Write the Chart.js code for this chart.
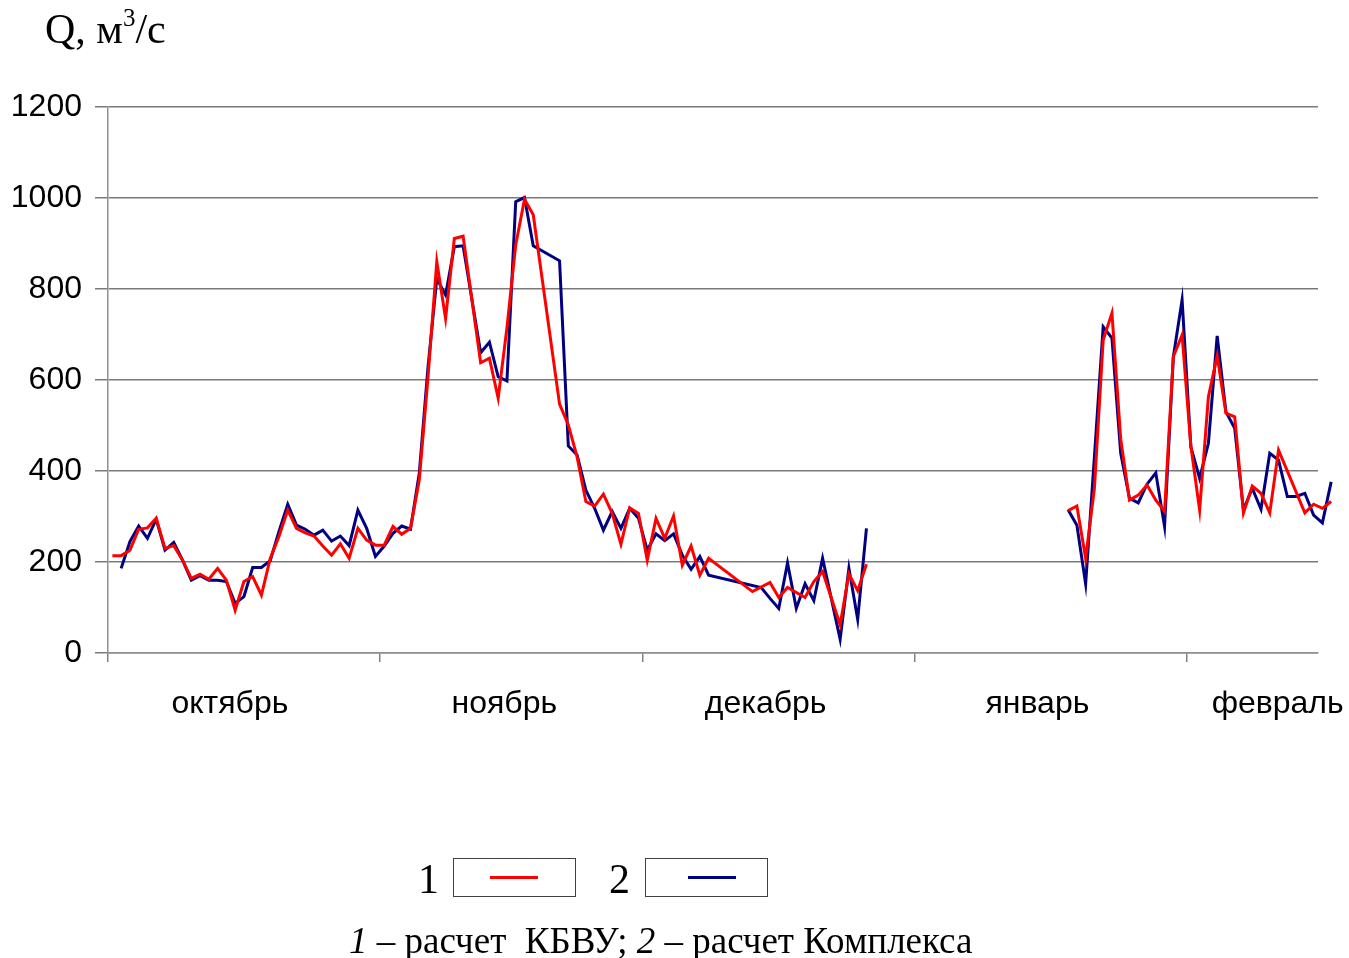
<!DOCTYPE html>
<html>
<head>
<meta charset="utf-8">
<script src="https://cdn.jsdelivr.net/npm/chart.js@4.4.1/dist/chart.umd.min.js"></script>
<style>
  html, body { margin:0; padding:0; background:#fff; }
  #wrap { position:relative; width:1349px; height:958px; overflow:hidden; }
  canvas { position:absolute; left:0; top:0; }
  .serif { font-family:"Liberation Serif","Times New Roman",serif; color:#000; position:absolute; white-space:nowrap; line-height:1; }
  .box { position:absolute; border:1.5px solid #404040; background:#fff; }
  .sample { position:absolute; height:3px; }
</style>
</head>
<body>
<div id="wrap">
  <canvas id="c" width="1349" height="958"></canvas>
  <div class="serif" style="left:45px; top:8px; font-size:42px;">Q, м<sup style="font-size:25px; vertical-align:17px; line-height:0">3</sup>/с</div>
  <div class="serif" style="left:418px; top:858px; font-size:42px;">1</div>
  <div class="box" style="left:453px; top:858px; width:121px; height:37px;">
    <div class="sample" style="left:36px; top:17px; width:48px; background:#ff0000;"></div>
  </div>
  <div class="serif" style="left:609px; top:858px; font-size:42px;">2</div>
  <div class="box" style="left:645px; top:858px; width:121px; height:37px;">
    <div class="sample" style="left:42px; top:17px; width:48px; background:#000080;"></div>
  </div>
  <div class="serif" style="left:349px; top:922px; font-size:37px;"><i>1</i> – расчет&nbsp; КБВУ; <i>2</i> – расчет Комплекса</div>
</div>
<script>
// Day index counted from 1 October (0 = 1 Oct); null breaks the line (no data)
const redDays = [0,1,2,3,4,5,6,7,8,9,10,11,12,13,14,15,16,17,18,19,20,21,22,23,24,25,26,27,28,29,30,31,32,33,34,35,36,37,38,39,40,42,43,44,45,46,47,48,51,52,53,54,55,56,57,58,59,60,61,62,63,64,65,66,67,68,73,75,76,77,78,79,80,81,83,84,85,86,
  100,
  109,110,111,112,113,114,115,116,117,118,119,120,121,122,123,124,125,126,127,128,129,130,131,132,133,136,137,138,139];
const redValues = [214,214,226,272,275,296,230,236,204,164,173,162,186,160,94,157,168,127,208,256,314,274,264,257,235,215,240,208,274,248,237,237,278,261,274,380,607,860,735,911,916,638,648,560,715,897,997,963,547,501,431,333,323,349,307,239,319,307,204,296,252,301,193,235,171,208,135,155,122,144,133,122,157,179,62,174,137,195,
  null,
  313,323,208,362,688,747,470,336,347,369,336,311,651,699,455,314,563,653,527,519,308,367,351,308,446,308,327,318,333];

const blueDays = [1,2,3,4,5,6,7,8,9,10,11,12,13,14,15,16,17,18,19,20,21,22,23,24,25,26,27,28,29,30,31,32,33,34,35,36,37,38,39,40,42,43,44,45,46,47,48,51,52,53,54,55,56,57,58,59,60,61,62,63,64,65,66,67,68,74,75,76,77,78,79,80,81,83,84,85,86,
  100,
  109,110,111,112,113,114,115,116,117,118,119,120,121,122,123,124,125,126,127,128,129,130,131,132,133,134,135,136,137,138,139];
const blueValues = [186,245,279,252,294,226,243,204,160,170,160,160,157,109,124,188,188,203,267,327,281,272,259,270,246,257,236,314,274,212,235,263,279,272,395,629,823,787,893,895,660,683,607,598,992,1001,895,862,455,435,358,318,270,311,274,318,296,226,262,247,262,215,184,212,171,144,120,98,198,98,152,115,208,30,186,74,274,
  null,
  315,281,152,431,717,692,439,340,330,371,396,278,651,776,453,384,461,697,530,494,314,362,316,439,424,344,344,351,303,286,376];

const monthBounds = [0,31,61,92,123];
const monthNames = ['октябрь','ноябрь','декабрь','январь','февраль'];
const monthLabelPos = [13.9,45.2,75.0,106.0,133.4];
const yTicks = [0,200,400,600,800,1000,1200];
const xRange = [0,138];

// each daily value sits in the middle of its day slot
const toXY = (days, vals) => days.map((d,i) => ({x:d + 0.5, y:vals[i]}));
const near = (a,b) => Math.abs(a-b) < 1e-6;

new Chart(document.getElementById('c'), {
  type: 'line',
  data: {
    datasets: [
      { label:'1', data: toXY(redDays, redValues), borderColor:'#ff0000', borderWidth:3,
        pointRadius:0, tension:0, spanGaps:false, clip:false },
      { label:'2', data: toXY(blueDays, blueValues), borderColor:'#000080', borderWidth:3,
        pointRadius:0, tension:0, spanGaps:false, clip:false }
    ]
  },
  options: {
    responsive:false, animation:false, events:[],
    layout: { padding: { left:0, right:31, top:107, bottom:225 } },
    plugins: { legend:{display:false}, tooltip:{enabled:false}, title:{display:false} },
    scales: {
      x: {
        type:'linear', bounds:'data',
        afterDataLimits: s => { s.min = xRange[0]; s.max = xRange[1]; },
        afterFit: s => { s.height = 80; s.paddingLeft = 0; s.paddingRight = 0; },
        afterBuildTicks: s => {
          const vals = [...monthBounds, ...monthLabelPos].sort((a,b)=>a-b);
          s.ticks = vals.map(v => ({value:v}));
        },
        ticks: {
          autoSkip:false, maxRotation:0, minRotation:0, padding:23,
          color:'#000', font:{ family:'"Liberation Sans", Arial, sans-serif', size:32 },
          callback: v => { const i = monthLabelPos.findIndex(p => near(p,v)); return i >= 0 ? monthNames[i] : ''; }
        },
        grid: {
          drawOnChartArea:false, drawTicks:true, tickLength:9, lineWidth:1.5,
          tickColor: ctx => (ctx.tick && monthBounds.some(b => near(b, ctx.tick.value))) ? '#808080' : 'rgba(0,0,0,0)',
          color: 'rgba(0,0,0,0)'
        },
        border: { display:true, color:'#909090', width:1.5 }
      },
      y: {
        min:0, max:1200,
        afterFit: s => { s.width = 108; s.paddingTop = 0; s.paddingBottom = 0; },
        afterBuildTicks: s => { s.ticks = yTicks.map(v => ({value:v})); },
        ticks: { padding:13, color:'#000', font:{ family:'"Liberation Sans", Arial, sans-serif', size:32 },
          callback: v => String(v) },
        grid: { color:'#7a7a7a', lineWidth:1.5, tickLength:13, drawTicks:true, tickColor:'#7a7a7a' },
        border: { display:true, color:'#909090', width:1.5 }
      }
    }
  }
});
</script>
</body>
</html>
